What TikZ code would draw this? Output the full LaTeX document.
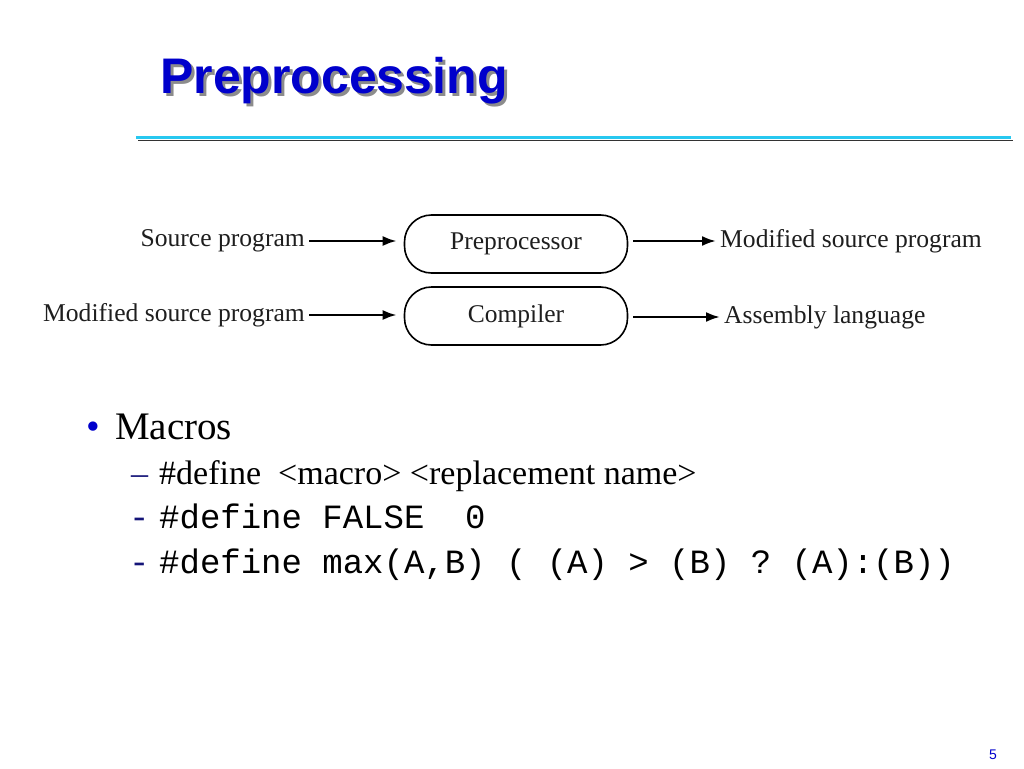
\documentclass[tikz,border=0pt]{standalone}
\usepackage{fontspec}
\setmainfont{Liberation Serif}
\setmonofont{Liberation Mono}
\newfontfamily\headfont{Liberation Sans}
\usetikzlibrary{arrows.meta,positioning}

\definecolor{slideblue}{RGB}{0,0,204}
\definecolor{rulecyan}{RGB}{40,200,240}
\definecolor{figgray}{RGB}{30,30,30}
\definecolor{dashnavy}{RGB}{20,20,120}

\tikzset{
    procbox/.style = {draw = black, line width = 1.6pt, rounded corners = 27pt,
        minimum width = 223pt, minimum height = 58pt, font = \fontsize{25.5}{25.5}\selectfont,
        text = figgray},
    figlabel/.style = {font = \fontsize{25.6}{25.6}\selectfont, text = figgray, inner sep = 4pt},
    flow/.style = {-{Latex[length = 14pt, width = 10pt]}, line width = 2.4pt},
    level one/.style = {anchor = base west, inner sep = 0pt, font = \fontsize{39}{39}\selectfont},
    level two/.style = {anchor = base west, inner sep = 0pt, font = \fontsize{34}{34}\selectfont},
}

\begin{document}
\begin{tikzpicture}[x = 1pt, y = -1pt]
    \useasboundingbox [fill = white] (0, 0) rectangle (1024, 768);

    % title and rule
    \node [anchor = base west, inner sep = 0pt, text = black!45,
        font = \headfont\bfseries\fontsize{50}{50}\selectfont] at (163, 96) {Preprocessing};
    \node [anchor = base west, inner sep = 0pt, text = slideblue,
        font = \headfont\bfseries\fontsize{50}{50}\selectfont] (title) at (160, 93) {Preprocessing};
    \draw [line width = 1.5pt, black!80] (138, 140.5) -- (1013, 140.5);
    \draw [line width = 3pt, rulecyan] (136, 137.5) -- (1011, 137.5);

    % the two stages
    \node [procbox] (pre) at (516, 244) {Preprocessor};
    \node [procbox] (comp) at (516, 316) {Compiler};

    \node [figlabel, anchor = east] (src) at (309, 241) {Source program};
    \node [figlabel, anchor = west] (msrc) at (716, 241) {Modified source program};
    \node [figlabel, anchor = east] (msrcin) at (309, 315) {Modified source program};
    \node [figlabel, anchor = west] (asm) at (720, 317) {Assembly language};

    \draw [flow, shorten > = 7pt] (src.east) -- (src.east -| pre.west);
    \draw [flow, shorten < = 5pt] (pre.east |- msrc.west) -- (msrc.west);
    \draw [flow, shorten > = 7pt] (msrcin.east) -- (msrcin.east -| comp.west);
    \draw [flow, shorten < = 5pt] (comp.east |- asm.west) -- (asm.west);

    % bullets
    \node [level one, text = slideblue] (dot) at (86, 439) {\textbullet};
    \node [level one] (macros) at (115, 439) {Macros};

    \node [level two, text = dashnavy] (dasha) at (131, 484) {\textendash};
    \node [level two] (defa) at (159, 484) {\#define\ \ <macro> <replacement name>};
    \node [level two, text = dashnavy, font = \ttfamily\fontsize{34}{34}\selectfont] (dashb) at (129, 528) {-};
    \node [level two, font = \ttfamily\fontsize{34}{34}\selectfont] (defb) at (159, 528) {\#define FALSE\ \ 0};
    \node [level two, text = dashnavy, font = \ttfamily\fontsize{34}{34}\selectfont] (dashc) at (129, 573) {-};
    \node [level two, font = \ttfamily\fontsize{34}{34}\selectfont] (defc) at (159, 573) {\#define max(A,B) ( (A) > (B) ? (A):(B))};

    % page number
    \node [text = slideblue, font = \headfont\fontsize{14}{14}\selectfont, inner sep = 0pt] (page) at (993, 755) {5};
\end{tikzpicture}
\end{document}
